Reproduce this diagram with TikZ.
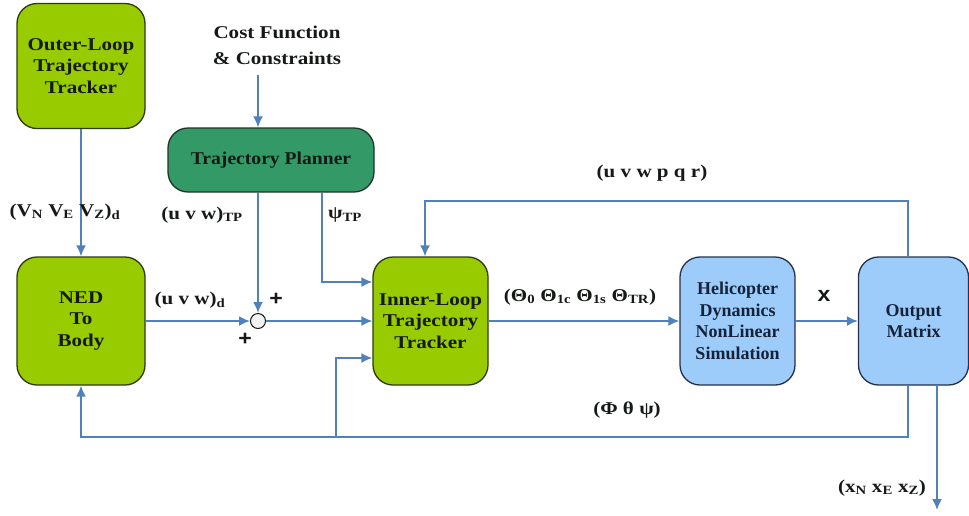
\documentclass[tikz,border=0pt]{standalone}
\usepackage{fontspec}
\setmainfont{Liberation Serif}[FakeStretch=1.17]
\newfontfamily\plainserif{Liberation Serif}
\newfontfamily\planserif{Liberation Serif}[FakeStretch=1.09]
\newfontfamily\sansbold{Liberation Sans}[FakeStretch=1.1]
\usetikzlibrary{arrows.meta}

\definecolor{boxgreen}{HTML}{99CC00}
\definecolor{planfill}{HTML}{339966}
\definecolor{boxblue}{HTML}{9DCBFA}
\definecolor{wire}{HTML}{4F81BD}
\definecolor{greenedge}{HTML}{2C3A10}
\definecolor{planedge}{HTML}{1E3526}
\definecolor{blueedge}{HTML}{22324E}
\definecolor{ink}{HTML}{161A16}
\definecolor{navyink}{HTML}{15233A}

\tikzset{
  blk/.style={draw, line width=1.3pt, rounded corners=20pt, align=center,
    inner sep=0pt, text=ink, font=\fontsize{18}{21.7}\selectfont\bfseries},
  greenblk/.style={blk, fill=boxgreen, draw=greenedge},
  planblk/.style={blk, fill=planfill, draw=planedge,
    font=\planserif\fontsize{18}{21.7}\selectfont\bfseries},
  blueblk/.style={blk, fill=boxblue, draw=blueedge, text=navyink,
    font=\plainserif\fontsize{18}{21.7}\selectfont\bfseries},
  flow/.style={draw=wire, line width=1.8pt, -{Latex[length=11pt,width=10pt]}},
  lbl/.style={inner sep=0pt, text=ink, font=\fontsize{18}{22}\selectfont\bfseries},
  sgn/.style={inner sep=0pt, text=ink, font=\sansbold\fontsize{21}{22}\selectfont\bfseries},
}

\begin{document}
\begin{tikzpicture}[x=1pt, y=-1pt]
\useasboundingbox (0,0) rectangle (969,515);

% blocks
\node[greenblk, minimum width=128pt, minimum height=125pt] (outer) at (81,66)
  {Outer-Loop\\Trajectory\\Tracker};
\node[planblk, minimum width=206pt, minimum height=64pt] (planner) at (271,160)
  {Trajectory Planner};
\node[greenblk, minimum width=128pt, minimum height=128pt] (ned) at (81,321)
  {NED\\To\\Body};
\node[greenblk, minimum width=115pt, minimum height=128pt] (inner) at (430.5,321)
  {Inner-Loop\\Trajectory\\Tracker};
\node[blueblk, minimum width=115pt, minimum height=128pt] (heli) at (737.5,321)
  {Helicopter\\Dynamics\\NonLinear\\Simulation};
\node[blueblk, minimum width=110pt, minimum height=128pt] (out) at (913.5,321)
  {Output\\Matrix};

% summing junction
\node[circle, draw=ink, line width=1pt, fill=black!5, minimum size=15pt, inner sep=0pt]
  (sum) at (258,321) {};

% external input
\node[align=center, inner sep=0pt, text=ink, font=\fontsize{18}{26}\selectfont\bfseries]
  (cost) at (277,45) {Cost Function\\\& Constraints};

% routing points
\coordinate (psiturn) at (322,282);
\coordinate (fbR) at (908,201);
\coordinate (fbL) at (425,201);
\coordinate (fbB) at (908,437);
\coordinate (brB) at (336,437);
\coordinate (brT) at (336,358);
\coordinate (xout) at (937,510);

% connectors
\draw[flow] (cost.south -| sum) ++(0,10) -- (planner.north -| sum);
\draw[flow] (outer) -- (ned);
\draw[flow] (planner.south -| sum) -- (sum.north);
\draw[flow] (ned.east) -- (sum.west);
\draw[flow] (sum.east) -- (inner.west);
\draw[flow] (planner.south -| psiturn) -- (psiturn) -- (inner.west |- psiturn);
\draw[flow] (inner.east) -- (heli.west);
\draw[flow] (heli.east) -- (out.west);
\draw[flow] (out.north -| fbR) -- (fbR) -- (fbL) -- (inner.north -| fbL);
\draw[flow] (out.south -| fbB) -- (fbB) -| (ned.south);
\draw[flow] (brB) -- (brT) -- (inner.west |- brT);
\draw[flow] (out.south -| xout) -- (xout);

% signal labels
\node[lbl] (lvned) at (65,212) {(V\textsubscript{N} V\textsubscript{E} V\textsubscript{Z})\textsubscript{d}};
\node[lbl] (luvwtp) at (202,215) {(u v w)\textsubscript{TP}};
\node[lbl] (lpsitp) at (345,215) {ψ\textsubscript{TP}};
\node[lbl] (luvwd) at (190,300) {(u v w)\textsubscript{d}};
\node[sgn] (plusa) at (276,299) {+};
\node[sgn] (plusb) at (245,339) {+};
\node[lbl] (ltheta) at (580,297) {(Θ\textsubscript{0} Θ\textsubscript{1c} Θ\textsubscript{1s} Θ\textsubscript{TR})};
\node[sgn] (lx) at (824,296) {x};
\node[lbl] (luvwpqr) at (652,173) {(u v w p q r)};
\node[lbl] (lphi) at (627,410) {(Φ θ ψ)};
\node[lbl] (lxne) at (882,488) {(x\textsubscript{N} x\textsubscript{E} x\textsubscript{Z})};
\end{tikzpicture}
\end{document}
